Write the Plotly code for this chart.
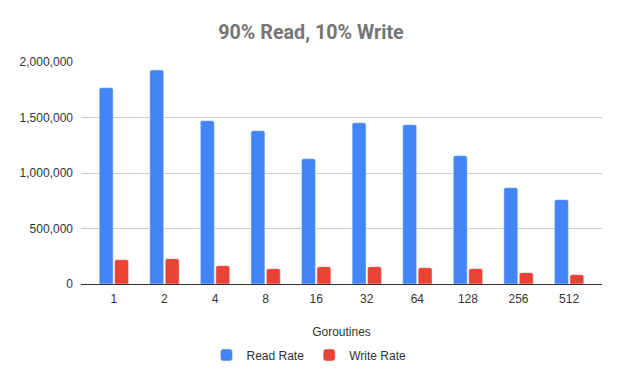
import plotly.graph_objects as go

goroutines = ["1", "2", "4", "8", "16", "32", "64", "128", "256", "512"]
read_rate = [1768000, 1928000, 1471000, 1381000, 1129000, 1453000, 1435000, 1156000, 868000, 760000]
write_rate = [219000, 228000, 165000, 138000, 156000, 156000, 147000, 138000, 102000, 84000]

tick_font = dict(family="Liberation Sans, Arial, sans-serif", size=12, color="#333333")

# The page body has a default 8px margin, so the figure is sized/offset to compensate.
W, H, OFF = 614, 375, 8

fig = go.Figure()
fig.add_trace(go.Bar(name="Read Rate", x=goroutines, y=read_rate, marker_color="#4285F4"))
fig.add_trace(go.Bar(name="Write Rate", x=goroutines, y=write_rate, marker_color="#EA4335"))

fig.update_layout(
    width=W, height=H,
    margin=dict(l=81 - OFF, r=20, t=62 - OFF, b=99, pad=0),
    paper_bgcolor="white", plot_bgcolor="white",
    title=dict(text="<b>90% Read, 10% Write</b>", x=(311 - OFF) / W, xref="container", xanchor="center",
               y=1 - (32 - OFF) / H, yref="container", yanchor="middle",
               font=dict(family="Roboto, sans-serif", size=19.7, color="#757575")),
    barmode="group", bargap=0.39, bargroupgap=0.1, barcornerradius=2,
    showlegend=True,
    legend=dict(orientation="h", x=(309 - OFF) / W, xref="container", xanchor="center",
                y=1 - (355 - OFF) / H, yref="container", yanchor="middle",
                font=tick_font, itemwidth=30),
    font=tick_font,
)
fig.update_xaxes(type="category", range=[-0.65, 9.65], showgrid=False, automargin=False,
                 showline=True, linecolor="#333333", linewidth=1,
                 ticks="", tickfont=tick_font, ticklabelstandoff=4,
                 title=dict(text="Goroutines", font=tick_font, standoff=22))
fig.update_yaxes(range=[0, 2000000], dtick=500000, tickformat=",", showgrid=True, automargin=False,
                 gridcolor="#cccccc", gridwidth=1, zeroline=True, zerolinecolor="#333333",
                 zerolinewidth=1, tickfont=tick_font, ticks="", ticklabelstandoff=7, fixedrange=True)

fig.write_html("out.html")
